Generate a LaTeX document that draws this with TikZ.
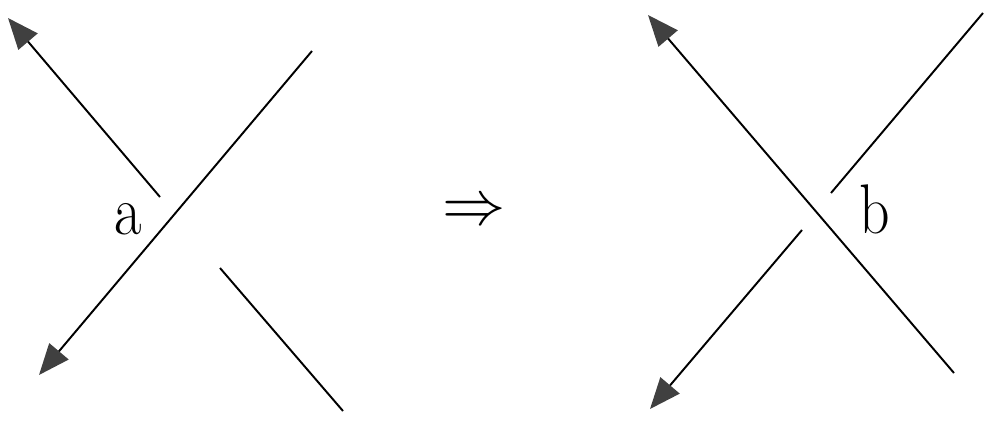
\documentclass[tikz,border=0pt]{standalone}
\usetikzlibrary{arrows.meta}

\begin{document}
\begin{tikzpicture}[x=1cm,y=1cm,
  strand/.style={line width=1.1pt, black},
  tipped/.style={strand, -{Triangle[length=0.62cm, width=0.5cm, color=black!75]}},
  lbl/.style={inner sep=0pt, font=\fontsize{40}{42}\selectfont, xscale=0.85}]
\useasboundingbox (0,0) rectangle (20,8.56);
% left crossing
\coordinate (lo1) at (6.24,7.54);
\coordinate (lo2) at (0.78,1.06);
\coordinate (lu1) at (3.20,4.62);
\coordinate (lu2) at (0.16,8.20);
\coordinate (lu3) at (4.40,3.20);
\coordinate (lu4) at (6.86,0.34);
\draw[tipped] (lo1) -- (lo2);
\draw[tipped] (lu1) -- (lu2);
\draw[strand] (lu3) -- (lu4);
\node[lbl] (a) at (2.56,4.18) {a};
% move
\node[inner sep=0pt, scale=3.6] (imp) at (9.48,4.30) {$\Rightarrow$};
% right crossing
\coordinate (ro1) at (19.08,1.10);
\coordinate (ro2) at (12.96,8.26);
\coordinate (ru1) at (19.66,8.30);
\coordinate (ru2) at (16.62,4.70);
\coordinate (ru3) at (16.04,3.96);
\coordinate (ru4) at (13.00,0.38);
\draw[tipped] (ro1) -- (ro2);
\draw[strand] (ru1) -- (ru2);
\draw[tipped] (ru3) -- (ru4);
\node[lbl] (b) at (17.50,4.38) {b};
\end{tikzpicture}
\end{document}
